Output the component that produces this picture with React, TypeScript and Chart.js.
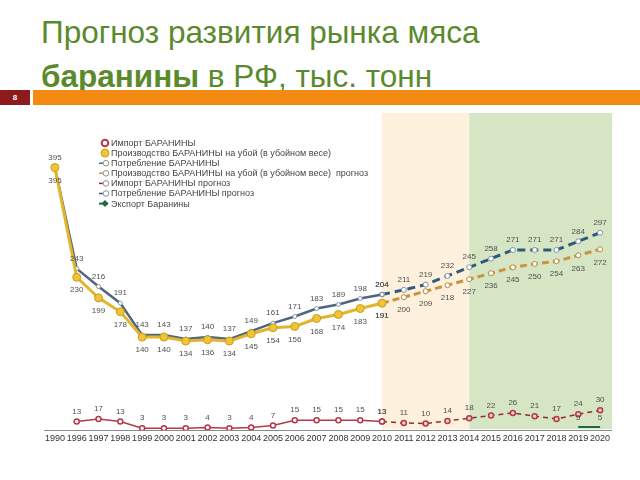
import React, { useEffect, useRef } from "react";
import { Chart, registerables } from "chart.js";

Chart.register(...registerables);

const years = ["1990","1996","1997","1998","1999","2000","2001","2002","2003","2004","2005","2006","2007","2008","2009","2010","2011","2012","2013","2014","2015","2016","2017","2018","2019","2020"];

const importActual = [null,13,17,13,3,3,3,4,3,4,7,15,15,15,15,13,null,null,null,null,null,null,null,null,null,null];
const productionActual = [395,230,199,178,140,140,134,136,134,145,154,156,168,174,183,191,null,null,null,null,null,null,null,null,null,null];
const consumptionActual = [395,243,216,191,143,143,137,140,137,149,161,171,183,189,198,204,null,null,null,null,null,null,null,null,null,null];
const productionForecast = [null,null,null,null,null,null,null,null,null,null,null,null,null,null,null,191,200,209,218,227,236,245,250,254,263,272];
const importForecast = [null,null,null,null,null,null,null,null,null,null,null,null,null,null,null,13,11,10,14,18,22,26,21,17,24,30];
const consumptionForecast = [null,null,null,null,null,null,null,null,null,null,null,null,null,null,null,204,211,219,232,245,258,271,271,271,284,297];
const exportValues = [null,null,null,null,null,null,null,null,null,null,null,null,null,null,null,null,null,null,null,null,null,null,null,null,5,5];

const seriesNames = [
  "Импорт БАРАНИНЫ",
  "Производство БАРАНИНЫ на убой (в убойном весе)",
  "Потребление БАРАНИНЫ",
  "Производство БАРАНИНЫ на убой (в убойном весе)  прогноз",
  "Импорт БАРАНИНЫ прогноз",
  "Потребление БАРАНИНЫ прогноз",
  "Экспорт Баранины",
];

const forecastBandStart = "2010";
const greenBandStart = "2014";

const FONT = "'Liberation Sans', Arial, sans-serif";

const bandsPlugin = {
  id: "bands",
  beforeDraw(chart: any) {
    const { ctx, chartArea, scales } = chart;
    const x = scales.x;
    const a = x.getPixelForValue(years.indexOf(forecastBandStart));
    const b = x.getPixelForValue(years.indexOf(greenBandStart));
    const top = chartArea.top + 2;
    const h = chartArea.bottom - top - 1;
    ctx.save();
    ctx.fillStyle = "#fdf0dc";
    ctx.fillRect(a, top, b - a, h);
    ctx.fillStyle = "#d6e6c4";
    ctx.fillRect(b, top, chartArea.right + 1 - b, h);
    ctx.restore();
  },
};

const labelsPlugin = {
  id: "pointLabels",
  afterDatasetsDraw(chart: any) {
    const { ctx } = chart;
    ctx.save();
    ctx.font = "8px " + FONT;
    ctx.fillStyle = "#505050";
    ctx.textAlign = "center";
    ctx.textBaseline = "middle";
    chart.data.datasets.forEach((ds: any, i: number) => {
      if (!ds.labelPos) return;
      const meta = chart.getDatasetMeta(i);
      meta.data.forEach((pt: any, j: number) => {
        const v = ds.data[j];
        if (v == null) return;
        const dy = ds.labelPos === "above" ? -ds.labelOffset : ds.labelOffset;
        ctx.fillText(String(v), pt.x, pt.y + dy);
      });
    });
    ctx.restore();
  },
};

const legendPlugin = {
  id: "innerLegend",
  afterDraw(chart: any) {
    const { ctx, chartArea } = chart;
    const mx = chartArea.left + 61;
    const tx = chartArea.left + 67;
    ctx.save();
    ctx.font = "9px " + FONT;
    ctx.textBaseline = "middle";
    ctx.textAlign = "left";
    chart.data.datasets.forEach((ds: any, i: number) => {
      const y = chartArea.top + 32 + i * 10.1;
      const kind = ds.legendKind;
      if (kind === "ring") {
        ctx.beginPath();
        ctx.arc(mx, y, 3.3, 0, Math.PI * 2);
        ctx.fillStyle = "#fff";
        ctx.fill();
        ctx.lineWidth = 2;
        ctx.strokeStyle = ds.borderColor;
        ctx.stroke();
      } else if (kind === "dot") {
        ctx.beginPath();
        ctx.arc(mx, y, 4, 0, Math.PI * 2);
        ctx.fillStyle = ds.pointBackgroundColor;
        ctx.fill();
        ctx.lineWidth = 1;
        ctx.strokeStyle = ds.pointBorderColor;
        ctx.stroke();
      } else if (kind === "diamond") {
        ctx.beginPath();
        ctx.moveTo(mx - 6, y);
        ctx.lineTo(mx + 3, y);
        ctx.strokeStyle = ds.borderColor;
        ctx.lineWidth = 2;
        ctx.stroke();
        ctx.beginPath();
        ctx.moveTo(mx, y - 3.5);
        ctx.lineTo(mx + 3.5, y);
        ctx.lineTo(mx, y + 3.5);
        ctx.lineTo(mx - 3.5, y);
        ctx.closePath();
        ctx.fillStyle = ds.borderColor;
        ctx.fill();
      } else {
        ctx.beginPath();
        ctx.moveTo(mx - 6, y);
        ctx.lineTo(mx - 2, y);
        ctx.strokeStyle = ds.borderColor;
        ctx.lineWidth = 1.5;
        ctx.stroke();
        ctx.beginPath();
        ctx.arc(mx + 1, y, 2.8, 0, Math.PI * 2);
        ctx.fillStyle = "#fff";
        ctx.fill();
        ctx.lineWidth = 1;
        ctx.strokeStyle = "#909090";
        ctx.stroke();
      }
      ctx.fillStyle = "#444444";
      ctx.fillText(ds.label, tx, y + 0.5);
    });
    ctx.restore();
  },
};

export default function App() {
  const ref = useRef<HTMLCanvasElement>(null);

  useEffect(() => {
    if (!ref.current) return;
    const chart = new Chart(ref.current, {
      type: "line",
      data: {
        labels: years,
        datasets: [
          {
            label: seriesNames[0],
            data: importActual,
            borderColor: "#b23a48",
            borderWidth: 1.5,
            pointRadius: 2.5,
            pointBackgroundColor: "#ffffff",
            pointBorderColor: "#b23a48",
            pointBorderWidth: 1.5,
            labelPos: "above",
            labelOffset: 10,
            legendKind: "ring",
          } as any,
          {
            label: seriesNames[1],
            data: productionActual,
            borderColor: "#e3b52a",
            borderWidth: 3,
            pointRadius: 4,
            pointBackgroundColor: "#f0c436",
            pointBorderColor: "#c79e1c",
            pointBorderWidth: 1,
            labelPos: "below",
            labelOffset: 13,
            legendKind: "dot",
          } as any,
          {
            label: seriesNames[2],
            data: consumptionActual,
            borderColor: "#51677f",
            borderWidth: 2.5,
            pointRadius: 2,
            pointBackgroundColor: "#ffffff",
            pointBorderColor: "#8a98a8",
            pointBorderWidth: 1,
            labelPos: "above",
            labelOffset: 10,
            legendKind: "line",
          } as any,
          {
            label: seriesNames[3],
            data: productionForecast,
            borderColor: "#c89440",
            borderWidth: 3,
            borderDash: [7, 4],
            pointRadius: 2.5,
            pointBackgroundColor: "#ffffff",
            pointBorderColor: "#b88a40",
            pointBorderWidth: 1,
            labelPos: "below",
            labelOffset: 13,
            legendKind: "line",
          } as any,
          {
            label: seriesNames[4],
            data: importForecast,
            borderColor: "#8e2e2e",
            borderWidth: 1.5,
            borderDash: [5, 4],
            pointRadius: 2.5,
            pointBackgroundColor: "#f3d0c8",
            pointBorderColor: "#b23a48",
            pointBorderWidth: 1.5,
            labelPos: "above",
            labelOffset: 10,
            legendKind: "line",
          } as any,
          {
            label: seriesNames[5],
            data: consumptionForecast,
            borderColor: "#2f5a7c",
            borderWidth: 3,
            borderDash: [8, 5],
            pointRadius: 2.5,
            pointBackgroundColor: "#ffffff",
            pointBorderColor: "#7f93a6",
            pointBorderWidth: 1,
            labelPos: "above",
            labelOffset: 10,
            legendKind: "line",
          } as any,
          {
            label: seriesNames[6],
            data: exportValues,
            borderColor: "#1e6b3c",
            borderWidth: 2,
            pointRadius: 0,
            labelPos: "above",
            labelOffset: 9,
            legendKind: "diamond",
          } as any,
        ],
      },
      options: {
        animation: false,
        responsive: false,
        spanGaps: false,
        layout: { padding: { left: 44, right: 29, top: 6, bottom: 8 } },
        plugins: {
          legend: { display: false },
          tooltip: { enabled: false },
          title: { display: false },
        },
        scales: {
          x: {
            offset: true,
            grid: { display: false, drawTicks: false },
            border: { display: true, color: "#8c8c8c", width: 1 },
            ticks: {
              autoSkip: false,
              maxRotation: 0,
              minRotation: 0,
              padding: 3,
              color: "#333333",
              font: { size: 9, family: FONT },
            },
          },
          y: {
            display: false,
            min: 0,
            max: 480,
          },
        },
      },
      plugins: [bandsPlugin, labelsPlugin, legendPlugin],
    });
    return () => chart.destroy();
  }, []);

  return (
    <div
      style={{
        position: "absolute",
        left: 0,
        top: 0,
        width: 640,
        height: 480,
        overflow: "hidden",
        background: "#ffffff",
        fontFamily: FONT,
      }}
    >
      <div
        style={{
          position: "absolute",
          left: 41,
          top: 10,
          fontSize: 31.5,
          lineHeight: "44px",
          color: "#5b8a2d",
          whiteSpace: "nowrap",
        }}
      >
        <div>Прогноз развития рынка мяса</div>
        <div>
          <b>баранины</b> в РФ, тыс. тонн
        </div>
      </div>
      <div
        style={{
          position: "absolute",
          left: 0,
          top: 90,
          width: 30,
          height: 15,
          background: "#8e1b1b",
          color: "#fff",
          fontSize: 8,
          fontWeight: "bold",
          lineHeight: "15px",
          textAlign: "center",
        }}
      >
        8
      </div>
      <div
        style={{
          position: "absolute",
          left: 33,
          top: 90,
          width: 607,
          height: 15,
          background: "#f38a12",
        }}
      />
      <canvas
        ref={ref}
        width={640}
        height={350}
        style={{ position: "absolute", left: 0, top: 105, width: 640, height: 350, display: "block" }}
      />
    </div>
  );
}
